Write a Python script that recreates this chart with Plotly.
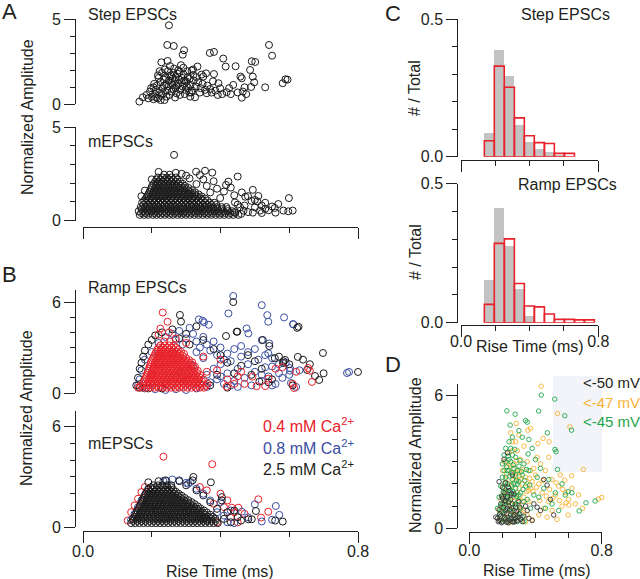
import plotly.graph_objects as go

# ---------------- DATA ----------------
# Panel A, Step EPSCs (rise time ms, normalized amplitude)
step_pts = [
    (0.250, 4.65), (0.245, 3.49), (0.264, 3.43), (0.294, 3.18), (0.290, 2.92), (0.369, 3.02), (0.381, 3.08),
    (0.541, 3.49), (0.550, 2.86), (0.408, 2.69), (0.491, 2.53), (0.501, 2.49), (0.228, 2.47), (0.246, 2.55),
    (0.444, 2.24), (0.415, 2.22), (0.486, 2.02), (0.458, 1.63), (0.462, 1.53), (0.494, 1.63), (0.498, 1.29),
    (0.581, 1.24), (0.589, 1.47), (0.595, 1.45), (0.530, 1.00), (0.489, 1.02), (0.465, 0.75), (0.462, 0.39),
    (0.437, 1.14), (0.418, 0.71), (0.394, 1.24), (0.399, 0.94), (0.381, 1.78), (0.358, 1.82), (0.350, 1.63),
    (0.333, 2.22), (0.316, 1.98), (0.321, 1.73), (0.326, 0.41), (0.309, 0.69), (0.340, 0.69), (0.360, 0.65),
    (0.374, 0.69), (0.164, 0.16), (0.174, 0.41), (0.185, 0.55), (0.195, 0.75),
    (0.200, 0.45), (0.205, 0.30), (0.210, 0.60), (0.212, 0.85), (0.215, 1.10), (0.218, 0.35), (0.220, 1.55),
    (0.222, 0.70), (0.225, 1.30), (0.228, 0.50), (0.230, 1.85), (0.232, 0.95), (0.235, 1.45), (0.237, 0.25),
    (0.240, 1.60), (0.242, 1.15), (0.245, 0.80), (0.247, 1.95), (0.250, 1.40), (0.252, 0.55), (0.255, 1.70),
    (0.257, 1.25), (0.260, 1.50), (0.262, 0.90), (0.265, 2.10), (0.267, 1.35), (0.270, 1.60), (0.272, 0.65),
    (0.275, 1.80), (0.278, 1.20), (0.280, 1.45), (0.283, 0.85), (0.285, 2.30), (0.288, 1.55), (0.290, 1.05),
    (0.293, 1.75), (0.296, 0.60), (0.300, 1.35), (0.303, 1.95), (0.306, 0.95), (0.310, 1.50), (0.313, 1.15),
    (0.318, 0.80), (0.322, 1.40), (0.328, 1.05), (0.335, 1.30), (0.342, 0.95), (0.348, 1.20), (0.355, 0.85),
    (0.362, 1.10), (0.370, 0.90), (0.378, 1.35), (0.385, 0.80), (0.392, 0.55), (0.405, 0.60), (0.425, 0.95),
    (0.430, 0.60), (0.450, 0.70), (0.470, 1.00), (0.475, 0.60),
    (0.190, 0.35), (0.198, 0.95), (0.207, 1.20), (0.213, 0.40), (0.226, 0.25), (0.233, 0.65), (0.238, 2.05),
    (0.243, 0.45), (0.248, 1.05), (0.253, 2.25), (0.258, 0.75), (0.263, 1.85), (0.268, 0.40), (0.273, 1.10),
    (0.277, 2.00), (0.282, 0.55), (0.287, 1.30), (0.292, 2.15), (0.298, 0.85), (0.305, 1.60), (0.312, 0.45),
    (0.320, 2.05), (0.330, 1.60), (0.345, 1.75), (0.205, 1.00), (0.218, 1.70), (0.223, 1.95), (0.236, 1.10),
    (0.251, 1.65), (0.261, 1.15), (0.269, 0.95), (0.281, 1.90), (0.295, 1.40), (0.302, 1.10), (0.315, 0.70),
]

# Panel A, mEPSCs: dense core read row by row (amplitude, rise times) + scattered points
a_mini_rows = [
    (0.30, [0.165, 0.178, 0.190, 0.203, 0.214, 0.226, 0.238, 0.251, 0.262, 0.275, 0.287, 0.299, 0.311, 0.324,
            0.336, 0.348, 0.361, 0.373, 0.386, 0.398, 0.411, 0.424, 0.437, 0.452]),
    (0.40, [0.169, 0.181, 0.193, 0.206, 0.218, 0.230, 0.242, 0.254, 0.266, 0.278, 0.290, 0.302, 0.315, 0.327,
            0.339, 0.352, 0.364, 0.376, 0.389, 0.401, 0.414, 0.428, 0.443]),
    (0.50, [0.162, 0.174, 0.187, 0.199, 0.211, 0.223, 0.236, 0.248, 0.259, 0.272, 0.284, 0.296, 0.309, 0.321,
            0.333, 0.346, 0.358, 0.370, 0.383, 0.395, 0.408, 0.421, 0.434]),
    (0.61, [0.171, 0.183, 0.195, 0.208, 0.220, 0.232, 0.244, 0.257, 0.269, 0.281, 0.293, 0.306, 0.318, 0.330,
            0.342, 0.355, 0.367, 0.380, 0.392, 0.405, 0.420]),
    (0.72, [0.168, 0.181, 0.193, 0.205, 0.217, 0.230, 0.242, 0.254, 0.266, 0.279, 0.291, 0.303, 0.316, 0.328,
            0.340, 0.353, 0.365, 0.378, 0.390, 0.403, 0.417]),
    (0.84, [0.176, 0.188, 0.200, 0.212, 0.224, 0.237, 0.249, 0.261, 0.273, 0.286, 0.298, 0.310, 0.322, 0.335,
            0.347, 0.360, 0.373, 0.388]),
    (0.95, [0.172, 0.184, 0.196, 0.208, 0.220, 0.233, 0.245, 0.257, 0.269, 0.282, 0.294, 0.306, 0.319, 0.331,
            0.343, 0.356, 0.369, 0.382]),
    (1.07, [0.178, 0.190, 0.202, 0.214, 0.226, 0.238, 0.250, 0.262, 0.274, 0.286, 0.298, 0.311, 0.323, 0.336,
            0.349, 0.362]),
    (1.18, [0.183, 0.195, 0.207, 0.219, 0.231, 0.243, 0.256, 0.268, 0.280, 0.292, 0.305, 0.317, 0.329, 0.342, 0.355]),
    (1.29, [0.186, 0.198, 0.210, 0.222, 0.234, 0.246, 0.258, 0.271, 0.283, 0.295, 0.307, 0.319, 0.332, 0.345]),
    (1.40, [0.190, 0.202, 0.214, 0.226, 0.238, 0.250, 0.262, 0.274, 0.287, 0.299, 0.311, 0.324, 0.336]),
    (1.51, [0.193, 0.205, 0.217, 0.229, 0.241, 0.253, 0.265, 0.277, 0.289, 0.301, 0.313, 0.326]),
    (1.62, [0.196, 0.208, 0.220, 0.232, 0.244, 0.256, 0.268, 0.281, 0.293, 0.305, 0.317]),
    (1.74, [0.199, 0.211, 0.223, 0.235, 0.247, 0.259, 0.271, 0.283, 0.295, 0.307]),
    (1.85, [0.201, 0.213, 0.225, 0.237, 0.249, 0.261, 0.273, 0.285, 0.297]),
    (1.96, [0.206, 0.218, 0.230, 0.242, 0.254, 0.266, 0.278, 0.290]),
    (2.08, [0.210, 0.222, 0.234, 0.246, 0.258, 0.270, 0.282]),
    (2.19, [0.214, 0.226, 0.238, 0.250, 0.262, 0.274]),
    (2.30, [0.218, 0.231, 0.244, 0.257, 0.270]),
    (2.45, [0.236, 0.252]),
]
a_mini_pts = [
    (0.265, 3.51), (0.287, 2.50), (0.329, 2.61), (0.355, 2.66), (0.376, 2.56), (0.340, 2.43), (0.450, 2.35),
    (0.423, 2.08), (0.416, 1.90), (0.430, 1.76), (0.494, 1.64), (0.462, 1.50), (0.472, 1.27), (0.510, 1.31),
    (0.507, 1.02), (0.599, 1.20), (0.568, 0.88), (0.558, 0.67), (0.583, 0.53), (0.610, 0.53), (0.597, 0.49),
    (0.530, 0.62), (0.515, 0.53), (0.494, 0.42), (0.467, 0.53), (0.457, 0.71), (0.442, 0.97), (0.399, 1.20),
    (0.460, 0.35), (0.470, 0.80), (0.480, 0.45), (0.490, 1.05), (0.500, 0.70), (0.520, 0.40), (0.530, 0.95),
    (0.540, 0.55), (0.550, 0.75), (0.560, 0.42), (0.480, 1.30), (0.440, 1.35), (0.410, 1.55), (0.390, 1.70),
    (0.370, 1.50), (0.360, 1.85), (0.380, 2.10), (0.350, 2.20), (0.330, 1.95), (0.310, 2.25), (0.300, 2.40),
    (0.270, 2.55), (0.220, 2.60), (0.200, 2.20), (0.180, 1.60), (0.170, 1.30), (0.440, 0.45), (0.450, 0.85),
    (0.500, 1.10), (0.520, 0.80),
]

# Panel B, Ramp EPSCs
ramp_red_rows = [
    (0.35, [0.160, 0.172, 0.184, 0.196, 0.208, 0.220, 0.232, 0.244, 0.256, 0.268, 0.280, 0.292, 0.304, 0.316,
            0.328, 0.340, 0.352]),
    (0.48, [0.166, 0.178, 0.190, 0.202, 0.214, 0.226, 0.238, 0.250, 0.262, 0.274, 0.286, 0.298, 0.310, 0.322,
            0.334, 0.346, 0.358]),
    (0.62, [0.175, 0.187, 0.199, 0.211, 0.223, 0.235, 0.247, 0.259, 0.271, 0.283, 0.295, 0.307, 0.319, 0.331,
            0.343, 0.362]),
    (0.76, [0.178, 0.190, 0.202, 0.214, 0.226, 0.238, 0.250, 0.262, 0.274, 0.286, 0.298, 0.310, 0.322, 0.334, 0.346]),
    (0.90, [0.180, 0.192, 0.204, 0.216, 0.228, 0.240, 0.252, 0.264, 0.276, 0.288, 0.300, 0.312, 0.324, 0.336, 0.350]),
    (1.04, [0.183, 0.195, 0.207, 0.219, 0.231, 0.243, 0.255, 0.267, 0.279, 0.291, 0.303, 0.315, 0.327, 0.339]),
    (1.18, [0.185, 0.197, 0.209, 0.221, 0.233, 0.245, 0.257, 0.269, 0.281, 0.293, 0.305, 0.317, 0.329, 0.341]),
    (1.32, [0.188, 0.200, 0.212, 0.224, 0.236, 0.248, 0.260, 0.272, 0.284, 0.296, 0.308, 0.320, 0.332]),
    (1.46, [0.190, 0.202, 0.214, 0.226, 0.238, 0.250, 0.262, 0.274, 0.286, 0.298, 0.310, 0.322, 0.334]),
    (1.60, [0.192, 0.204, 0.216, 0.228, 0.240, 0.252, 0.264, 0.276, 0.288, 0.300, 0.312, 0.324]),
    (1.74, [0.194, 0.206, 0.218, 0.230, 0.242, 0.254, 0.266, 0.278, 0.290, 0.302, 0.314, 0.326]),
    (1.88, [0.196, 0.208, 0.220, 0.232, 0.244, 0.256, 0.268, 0.280, 0.292, 0.304, 0.316]),
    (2.02, [0.198, 0.210, 0.222, 0.234, 0.246, 0.258, 0.270, 0.282, 0.294, 0.306, 0.318]),
    (2.16, [0.201, 0.213, 0.225, 0.237, 0.249, 0.261, 0.273, 0.285, 0.297, 0.309]),
    (2.30, [0.204, 0.216, 0.228, 0.240, 0.252, 0.264, 0.276, 0.288, 0.300]),
    (2.44, [0.207, 0.219, 0.231, 0.243, 0.255, 0.267, 0.279, 0.291]),
    (2.58, [0.210, 0.222, 0.234, 0.246, 0.258, 0.270, 0.282, 0.294]),
    (2.72, [0.213, 0.225, 0.237, 0.249, 0.261, 0.273, 0.285]),
    (2.86, [0.216, 0.228, 0.240, 0.252, 0.264, 0.276]),
    (3.00, [0.220, 0.232, 0.245, 0.258, 0.270]),
    (3.14, [0.225, 0.238, 0.251, 0.264]),
    (3.40, [0.236, 0.252]),
]
ramp_red_pts = [
    (0.232, 5.31), (0.246, 4.70), (0.225, 4.25), (0.220, 3.85), (0.250, 4.00), (0.270, 3.60), (0.300, 3.30),
    (0.350, 2.40), (0.390, 1.50), (0.420, 0.90), (0.418, 0.42), (0.450, 1.10), (0.470, 0.60), (0.493, 1.08),
    (0.505, 0.45), (0.540, 0.95), (0.560, 1.60), (0.580, 1.70), (0.620, 1.40), (0.655, 1.65), (0.666, 0.73),
    (0.614, 0.33), (0.660, 1.47), (0.530, 0.45), (0.460, 1.40), (0.400, 2.20), (0.360, 1.40), (0.440, 0.60),
    (0.610, 0.60),
]
ramp_blue_pts = [
    (0.437, 6.40), (0.423, 5.25), (0.520, 5.80), (0.536, 5.14), (0.539, 4.70), (0.585, 4.99), (0.612, 4.53),
    (0.337, 4.86), (0.348, 4.77), (0.352, 4.66), (0.366, 4.50), (0.476, 4.26), (0.481, 3.93), (0.520, 3.49),
    (0.542, 3.27), (0.539, 2.62), (0.602, 1.47), (0.611, 4.55), (0.602, 1.65), (0.605, 0.66), (0.768, 1.32),
    (0.774, 1.39), (0.620, 0.40), (0.550, 1.75), (0.570, 1.30),
    (0.260, 3.90), (0.280, 4.10), (0.300, 3.60), (0.310, 4.30), (0.320, 3.90), (0.330, 3.40), (0.340, 3.00),
    (0.350, 3.70), (0.360, 3.20), (0.370, 2.80), (0.380, 3.40), (0.390, 2.50), (0.400, 3.00), (0.410, 2.20),
    (0.290, 3.20), (0.270, 3.50), (0.240, 3.70), (0.220, 3.30), (0.200, 2.70), (0.180, 2.20), (0.170, 1.50),
    (0.165, 0.90), (0.160, 0.50), (0.180, 0.30), (0.210, 0.25), (0.240, 0.20), (0.270, 0.25), (0.300, 0.20),
    (0.330, 0.30), (0.360, 0.40),
    (0.360, 1.20), (0.370, 0.70), (0.380, 1.60), (0.390, 0.90), (0.400, 1.90), (0.410, 0.60), (0.420, 1.30),
    (0.430, 2.10), (0.440, 0.80), (0.450, 1.60), (0.460, 2.40), (0.470, 1.00), (0.480, 1.90), (0.490, 0.50),
    (0.500, 1.40), (0.510, 2.20), (0.520, 0.80), (0.530, 1.70), (0.540, 1.10), (0.550, 2.30), (0.560, 0.60),
    (0.570, 1.90), (0.580, 1.00), (0.590, 2.00), (0.600, 1.20), (0.630, 1.50), (0.450, 0.40), (0.480, 2.70),
    (0.440, 2.90), (0.420, 2.60), (0.500, 2.90), (0.530, 2.50), (0.460, 3.10), (0.400, 1.10), (0.430, 0.50),
    (0.520, 1.20), (0.550, 0.50),
    (0.200, 1.20), (0.220, 1.90), (0.240, 0.60), (0.260, 2.60), (0.280, 1.40), (0.300, 0.80), (0.320, 1.80),
    (0.340, 0.60), (0.350, 2.30), (0.330, 2.70),
]
ramp_black_pts = [
    (0.437, 6.00), (0.282, 5.15), (0.285, 4.71), (0.449, 4.05), (0.416, 3.76), (0.627, 4.37), (0.623, 4.30),
    (0.523, 3.50), (0.542, 3.10), (0.558, 2.30), (0.583, 2.10), (0.625, 2.38), (0.588, 2.18), (0.582, 1.98),
    (0.652, 1.52), (0.675, 1.12), (0.687, 0.86), (0.698, 2.64), (0.800, 1.39), (0.513, 0.75), (0.447, 4.04),
    (0.200, 3.50), (0.190, 3.20), (0.180, 2.80), (0.175, 2.40), (0.170, 2.00), (0.165, 1.60), (0.160, 1.00),
    (0.155, 0.50), (0.165, 0.35), (0.190, 0.30), (0.210, 3.80), (0.230, 4.00), (0.260, 4.20), (0.300, 3.90),
    (0.330, 4.40), (0.350, 3.50), (0.380, 2.90), (0.400, 2.50), (0.420, 2.00), (0.390, 1.20), (0.460, 1.80),
    (0.480, 2.50), (0.500, 2.10), (0.520, 1.60), (0.550, 0.90), (0.570, 2.40), (0.600, 1.90), (0.640, 2.20),
    (0.660, 1.90), (0.700, 1.30), (0.440, 1.30), (0.370, 0.50), (0.420, 0.35), (0.490, 1.20), (0.540, 0.70),
    (0.610, 0.50), (0.230, 0.30), (0.310, 3.20), (0.280, 3.60),
]

# Panel B, mEPSCs
b_mini_black_rows = [
    (0.25, [0.140, 0.152, 0.164, 0.176, 0.188, 0.200, 0.212, 0.224, 0.236, 0.248, 0.260, 0.272, 0.284, 0.296,
            0.308, 0.320, 0.332, 0.344, 0.356, 0.368, 0.380, 0.392]),
    (0.38, [0.146, 0.158, 0.170, 0.182, 0.194, 0.206, 0.218, 0.230, 0.242, 0.254, 0.266, 0.278, 0.290, 0.302,
            0.314, 0.326, 0.338, 0.350, 0.362, 0.374, 0.386]),
    (0.50, [0.145, 0.157, 0.169, 0.181, 0.193, 0.205, 0.217, 0.229, 0.241, 0.253, 0.265, 0.277, 0.289, 0.301,
            0.313, 0.325, 0.337, 0.349, 0.361, 0.373, 0.385]),
    (0.62, [0.150, 0.162, 0.174, 0.186, 0.198, 0.210, 0.222, 0.234, 0.246, 0.258, 0.270, 0.282, 0.294, 0.306,
            0.318, 0.330, 0.342, 0.354, 0.366, 0.378]),
    (0.75, [0.152, 0.164, 0.176, 0.188, 0.200, 0.212, 0.224, 0.236, 0.248, 0.260, 0.272, 0.284, 0.296, 0.308,
            0.320, 0.332, 0.344, 0.356, 0.370]),
    (0.88, [0.156, 0.168, 0.180, 0.192, 0.204, 0.216, 0.228, 0.240, 0.252, 0.264, 0.276, 0.288, 0.300, 0.312,
            0.324, 0.336, 0.348, 0.360]),
    (1.00, [0.158, 0.170, 0.182, 0.194, 0.206, 0.218, 0.230, 0.242, 0.254, 0.266, 0.278, 0.290, 0.302, 0.314,
            0.326, 0.338, 0.352]),
    (1.12, [0.162, 0.174, 0.186, 0.198, 0.210, 0.222, 0.234, 0.246, 0.258, 0.270, 0.282, 0.294, 0.306, 0.318,
            0.330, 0.342]),
    (1.25, [0.165, 0.177, 0.189, 0.201, 0.213, 0.225, 0.237, 0.249, 0.261, 0.273, 0.285, 0.297, 0.309, 0.321, 0.334]),
    (1.38, [0.168, 0.180, 0.192, 0.204, 0.216, 0.228, 0.240, 0.252, 0.264, 0.276, 0.288, 0.300, 0.312, 0.325]),
    (1.50, [0.171, 0.183, 0.195, 0.207, 0.219, 0.231, 0.243, 0.255, 0.267, 0.279, 0.291, 0.303, 0.316]),
    (1.62, [0.174, 0.186, 0.198, 0.210, 0.222, 0.234, 0.246, 0.258, 0.270, 0.282, 0.294, 0.306]),
    (1.75, [0.176, 0.188, 0.200, 0.212, 0.224, 0.236, 0.248, 0.260, 0.272, 0.284, 0.296]),
    (1.88, [0.179, 0.191, 0.203, 0.215, 0.227, 0.239, 0.251, 0.263, 0.275, 0.287]),
    (2.00, [0.182, 0.194, 0.206, 0.218, 0.230, 0.242, 0.254, 0.266, 0.278]),
    (2.12, [0.186, 0.198, 0.210, 0.222, 0.234, 0.246, 0.258, 0.270]),
    (2.25, [0.190, 0.202, 0.214, 0.226, 0.238, 0.250, 0.262]),
    (2.38, [0.197, 0.209, 0.221, 0.233, 0.245, 0.257]),
    (2.50, [0.205, 0.218, 0.231, 0.244, 0.257]),
]
b_mini_black_pts = [
    (0.190, 2.68), (0.372, 2.68), (0.321, 3.00), (0.319, 2.80), (0.404, 1.80), (0.404, 1.60), (0.503, 0.97),
    (0.481, 0.48), (0.491, 0.48), (0.559, 0.40), (0.581, 0.34), (0.420, 0.90), (0.410, 0.50), (0.430, 0.30),
    (0.450, 0.60), (0.390, 1.10), (0.370, 1.50), (0.350, 1.90), (0.330, 2.20), (0.300, 2.50), (0.280, 2.75),
    (0.240, 2.80), (0.220, 2.75), (0.460, 0.40), (0.440, 1.00),
]
b_mini_red_pts = [
    (0.234, 4.21), (0.376, 3.76), (0.433, 1.17), (0.452, 1.17), (0.510, 1.67), (0.518, 0.58), (0.539, 0.93),
    (0.400, 2.00), (0.380, 1.40), (0.410, 1.20), (0.430, 0.60), (0.140, 0.90), (0.150, 1.30), (0.160, 1.70),
    (0.170, 2.10), (0.180, 2.40), (0.450, 0.30), (0.470, 0.80), (0.360, 2.20), (0.340, 2.40), (0.390, 0.30),
    (0.130, 0.40), (0.440, 0.90), (0.350, 0.50), (0.420, 1.60),
]
b_mini_blue_pts = [
    (0.234, 2.76), (0.243, 2.76), (0.306, 2.60), (0.313, 2.70), (0.300, 2.65), (0.462, 0.93), (0.500, 1.37),
    (0.561, 1.27), (0.571, 0.74), (0.420, 0.30), (0.440, 0.25), (0.140, 0.45), (0.150, 0.80), (0.160, 1.20),
    (0.170, 1.60), (0.190, 2.30), (0.330, 2.30), (0.350, 2.00), (0.370, 1.60), (0.390, 0.90), (0.410, 0.70),
    (0.430, 1.00), (0.480, 0.60), (0.520, 0.35), (0.550, 0.45), (0.260, 2.85), (0.280, 2.80), (0.360, 0.40),
    (0.400, 1.50),
]

# Panel C histograms (# / Total per rise-time bin)
bin_centers = [0.165, 0.223, 0.282, 0.340, 0.398, 0.457, 0.515, 0.573, 0.632, 0.690, 0.748]
step_gray = [0.085, 0.387, 0.293, 0.115, 0.052, 0.028, 0.018, 0.006, 0.0, 0.0, 0.0]
step_red = [0.058, 0.329, 0.252, 0.141, 0.076, 0.051, 0.048, 0.012, 0.012, 0.0, 0.0]
ramp_gray = [0.153, 0.411, 0.275, 0.121, 0.025, 0.0, 0.0, 0.0, 0.0, 0.0, 0.0]
ramp_red = [0.066, 0.285, 0.301, 0.141, 0.060, 0.057, 0.031, 0.012, 0.012, 0.010, 0.010]

# Panel D, Ramp EPSCs by holding potential
d_orange_pts = [
    (0.435, 6.40), (0.533, 5.17), (0.608, 4.57), (0.415, 3.82), (0.284, 4.72), (0.354, 4.42), (0.446, 4.05),
    (0.482, 3.90), (0.689, 2.65), (0.800, 1.39), (0.780, 1.32), (0.597, 0.60), (0.685, 0.90), (0.601, 1.05),
    (0.618, 2.37), (0.577, 2.17), (0.370, 4.50), (0.300, 4.20), (0.260, 3.90), (0.480, 3.20),
    (0.400, 2.40), (0.420, 2.00), (0.440, 1.60), (0.460, 2.60), (0.480, 1.20), (0.500, 2.20), (0.520, 1.50),
    (0.540, 1.90), (0.560, 1.00), (0.580, 1.60), (0.600, 1.30), (0.620, 1.80), (0.640, 1.10), (0.660, 1.50),
    (0.450, 0.90), (0.470, 0.50), (0.500, 0.80), (0.530, 0.40), (0.550, 2.40), (0.430, 2.90), (0.410, 3.20),
    (0.390, 2.70), (0.370, 1.80), (0.360, 1.20), (0.350, 0.60), (0.380, 0.40), (0.420, 0.60),
    (0.190, 0.40), (0.200, 0.90), (0.210, 1.50), (0.220, 2.20), (0.230, 2.80), (0.240, 3.40), (0.250, 2.50),
    (0.260, 1.90), (0.270, 2.90), (0.280, 2.30), (0.290, 1.60), (0.300, 2.60), (0.310, 3.10), (0.320, 2.00),
    (0.330, 1.40), (0.340, 2.30), (0.350, 3.00), (0.360, 1.70), (0.370, 2.60), (0.380, 2.10), (0.200, 2.60),
    (0.210, 3.00), (0.220, 1.10), (0.230, 0.50), (0.240, 1.60), (0.250, 0.80), (0.260, 3.50), (0.270, 1.20),
    (0.280, 0.60), (0.290, 2.50), (0.300, 1.00), (0.310, 0.40), (0.320, 1.20), (0.330, 0.80), (0.340, 0.30),
    (0.280, 3.90), (0.250, 4.30), (0.290, 3.50), (0.330, 3.70), (0.310, 2.20), (0.270, 2.20), (0.240, 2.00),
    (0.220, 1.70), (0.260, 1.40), (0.300, 1.80), (0.190, 1.30), (0.180, 0.80), (0.350, 2.00), (0.270, 0.30),
    (0.240, 0.25),
    (0.205, 1.85), (0.225, 2.45), (0.245, 2.85), (0.265, 2.65), (0.285, 3.05), (0.305, 2.35), (0.325, 2.65),
    (0.345, 1.65), (0.365, 2.25), (0.385, 1.65), (0.405, 1.85), (0.425, 1.25), (0.445, 2.15), (0.465, 1.45),
    (0.485, 1.75), (0.505, 1.35), (0.525, 2.05), (0.545, 1.25), (0.565, 1.75), (0.585, 1.15), (0.215, 0.65),
    (0.235, 1.25), (0.255, 1.05), (0.275, 0.75), (0.295, 1.35), (0.315, 0.85),
]
d_green_pts = [
    (0.435, 6.00), (0.516, 5.82), (0.227, 5.29), (0.277, 5.14), (0.419, 5.28), (0.577, 5.07), (0.618, 4.42),
    (0.340, 4.85), (0.350, 4.78), (0.247, 4.65), (0.472, 4.30), (0.518, 3.55), (0.524, 3.45), (0.533, 2.65),
    (0.760, 1.23), (0.664, 0.78), (0.705, 1.15), (0.597, 1.65), (0.580, 1.50), (0.620, 1.60), (0.560, 2.00),
    (0.480, 2.20), (0.450, 1.80), (0.430, 2.70), (0.400, 3.10), (0.420, 1.40), (0.460, 0.90), (0.500, 1.10),
    (0.540, 0.80), (0.520, 1.60), (0.380, 3.60), (0.360, 4.00), (0.320, 4.10), (0.300, 4.40), (0.260, 4.10),
    (0.240, 3.90), (0.220, 3.60), (0.210, 3.30), (0.200, 2.90),
    (0.180, 0.60), (0.190, 1.00), (0.200, 1.40), (0.210, 1.80), (0.220, 2.30), (0.230, 2.00), (0.240, 2.60),
    (0.250, 3.00), (0.260, 2.20), (0.270, 2.70), (0.280, 3.20), (0.290, 2.00), (0.300, 2.80), (0.310, 1.60),
    (0.320, 2.40), (0.330, 2.90), (0.340, 1.90), (0.350, 1.30), (0.360, 2.60), (0.190, 1.90), (0.200, 2.30),
    (0.210, 1.10), (0.220, 0.80), (0.230, 1.40), (0.240, 1.20), (0.250, 1.70), (0.260, 0.90), (0.270, 1.50),
    (0.280, 1.10), (0.290, 0.60), (0.300, 1.50), (0.310, 0.90), (0.320, 0.50), (0.330, 1.20), (0.230, 2.60),
    (0.240, 3.10), (0.250, 3.60), (0.220, 3.00), (0.260, 3.30), (0.270, 2.00), (0.280, 1.80), (0.290, 2.60),
    (0.210, 2.60), (0.200, 1.10), (0.220, 1.60), (0.240, 1.80), (0.260, 2.50), (0.280, 2.40), (0.300, 2.10),
    (0.180, 1.40), (0.170, 0.90), (0.190, 0.35), (0.210, 0.45), (0.230, 0.30), (0.250, 0.50), (0.270, 0.40),
    (0.290, 0.30), (0.330, 0.30), (0.370, 0.90), (0.390, 1.50), (0.410, 2.30),
    (0.195, 0.75), (0.205, 1.65), (0.215, 2.05), (0.225, 2.75), (0.235, 3.25), (0.245, 2.35), (0.255, 1.95),
    (0.265, 2.85), (0.275, 3.55), (0.285, 2.15), (0.295, 1.25), (0.305, 3.05), (0.315, 2.55), (0.325, 1.75),
    (0.335, 2.15), (0.345, 2.65), (0.355, 3.35), (0.365, 1.95), (0.215, 0.85), (0.235, 1.15), (0.255, 0.75),
    (0.275, 1.05), (0.305, 0.65), (0.225, 1.35), (0.245, 1.45), (0.265, 1.65), (0.285, 1.45),
]
d_black_pts = [
    (0.170, 0.45), (0.180, 0.35), (0.190, 0.55), (0.200, 0.30), (0.210, 0.70), (0.220, 0.40), (0.230, 0.90),
    (0.240, 0.35), (0.250, 0.60), (0.260, 0.30), (0.270, 0.80), (0.280, 0.45), (0.290, 0.35), (0.300, 0.65),
    (0.310, 0.40), (0.320, 0.30), (0.180, 0.85), (0.190, 1.10), (0.200, 1.35), (0.210, 1.60), (0.220, 1.20),
    (0.230, 1.45), (0.240, 1.00), (0.250, 1.30), (0.260, 1.10), (0.270, 1.55), (0.280, 0.95), (0.200, 1.85),
    (0.220, 2.05), (0.240, 1.70), (0.260, 2.40), (0.230, 3.40), (0.210, 3.10), (0.180, 2.10), (0.195, 0.25),
    (0.215, 0.50), (0.235, 0.25), (0.255, 0.45), (0.275, 0.30), (0.295, 0.50), (0.330, 0.55), (0.350, 0.80),
    (0.360, 0.45), (0.380, 0.35), (0.410, 0.95), (0.450, 2.20), (0.470, 1.95), (0.490, 1.30), (0.510, 0.60),
    (0.430, 0.80), (0.390, 1.10), (0.160, 0.50), (0.300, 1.20), (0.340, 1.00),
    (0.185, 0.65), (0.205, 0.95), (0.225, 0.65), (0.245, 0.85), (0.265, 0.55), (0.285, 0.75), (0.305, 0.95),
    (0.195, 1.45), (0.215, 1.25), (0.235, 1.85), (0.255, 1.55), (0.175, 0.30), (0.225, 0.28), (0.265, 0.28),
]

legend_B = ["0.4 mM Ca<sup>2+</sup>", "0.8 mM Ca<sup>2+</sup>", "2.5 mM Ca<sup>2+</sup>"]
legend_D = ["&lt;-50 mV", "&lt;-47 mV", "&lt;-45 mV"]

# ---------------- STYLE / GEOMETRY ----------------
W, H = 640, 579
INK = "#231f20"
RED = "#e8212a"
BLUE = "#3b4ea2"
BLK = "#1a1a1a"
ORANGE = "#f7b234"
GREEN = "#1fa64a"
GRAY = "#c3c3c3"
FONT = "Liberation Sans, Arial, sans-serif"


def X(px):
    return px / W


def Y(py):
    return 1 - py / H


def rows_to_pts(rows):
    return [(x, amp) for amp, xs in rows for x in xs]


def scatter(pts, color, xa, ya, size=7, lw=1.0):
    return go.Scatter(
        x=[p[0] for p in pts], y=[p[1] for p in pts], mode="markers", xaxis=xa, yaxis=ya,
        cliponaxis=False, showlegend=False, hoverinfo="skip",
        marker=dict(symbol="circle-open", size=size, color=color, line=dict(width=lw, color=color)),
    )


def yax(top, bot, rng, pos, majors, labels, minors):
    return dict(
        domain=[Y(bot), Y(top)], range=rng, anchor="free", position=X(pos), automargin=False,
        showline=True, linecolor=INK, linewidth=1, showgrid=False, zeroline=False, fixedrange=True,
        ticks="outside", ticklen=11, tickwidth=1, tickcolor=INK,
        tickmode="array", tickvals=majors, ticktext=labels,
        tickfont=dict(size=16, color=INK, family=FONT),
        minor=dict(tickmode="array", tickvals=minors, ticks="outside", ticklen=5, tickwidth=1, tickcolor=INK),
    )


def xax(left, right, ypos, show_labels, standoff=0):
    return dict(
        domain=[X(left), X(right)], range=[0, 0.8], anchor="free", position=Y(ypos), automargin=False,
        showline=True, linecolor=INK, linewidth=1, showgrid=False, zeroline=False, fixedrange=True,
        ticks="outside", ticklen=11, tickwidth=1, tickcolor=INK,
        tickmode="array", tickvals=[0, 0.8], ticktext=["0.0", "0.8"], showticklabels=show_labels,
        ticklabelstandoff=standoff,
        tickfont=dict(size=16, color=INK, family=FONT),
        minor=dict(tickmode="array", tickvals=[0.2, 0.4, 0.6], ticks="outside", ticklen=5, tickwidth=1,
                   tickcolor=INK),
    )


fig = go.Figure()

# Panel A
fig.add_trace(scatter(step_pts, BLK, "x", "y"))
fig.add_trace(scatter(rows_to_pts(a_mini_rows) + a_mini_pts, BLK, "x", "y2"))
# Panel B top (ramp)
fig.add_trace(scatter(ramp_blue_pts, BLUE, "x2", "y3"))
fig.add_trace(scatter(ramp_black_pts, BLK, "x2", "y3"))
fig.add_trace(scatter(rows_to_pts(ramp_red_rows) + ramp_red_pts, RED, "x2", "y3"))
# Panel B bottom (minis)
fig.add_trace(scatter(b_mini_red_pts, RED, "x2", "y4"))
fig.add_trace(scatter(b_mini_blue_pts, BLUE, "x2", "y4"))
fig.add_trace(scatter(rows_to_pts(b_mini_black_rows) + b_mini_black_pts, BLK, "x2", "y4"))

# Panel C histograms
bw = bin_centers[1] - bin_centers[0]
for xa, ya, gray, red in (("x3", "y5", step_gray, step_red), ("x4", "y6", ramp_gray, ramp_red)):
    gx = [c for c, v in zip(bin_centers, gray) if v > 0]
    gy = [v for v in gray if v > 0]
    rx = [c for c, v in zip(bin_centers, red) if v > 0]
    ry = [v for v in red if v > 0]
    fig.add_trace(go.Bar(x=gx, y=gy, width=bw, xaxis=xa, yaxis=ya, marker=dict(color=GRAY, line=dict(width=0)),
                         showlegend=False, hoverinfo="skip"))
    fig.add_trace(go.Bar(x=rx, y=ry, width=bw, xaxis=xa, yaxis=ya,
                         marker=dict(color="rgba(0,0,0,0)", line=dict(width=1.6, color=RED)),
                         showlegend=False, hoverinfo="skip"))

# Panel D
fig.add_trace(scatter(d_orange_pts, ORANGE, "x5", "y7", size=4.5, lw=0.9))
fig.add_trace(scatter(d_green_pts, GREEN, "x5", "y7", size=4.5, lw=0.9))
fig.add_trace(scatter(d_black_pts, "#333333", "x5", "y7", size=4.5, lw=0.9))

fig.update_layout(
    width=W, height=H, margin=dict(l=0, r=0, t=0, b=0, autoexpand=False), autosize=False,
    paper_bgcolor="white", plot_bgcolor="rgba(0,0,0,0)", barmode="overlay", bargap=0,
    font=dict(family=FONT, color=INK, size=16), hovermode=False,
    xaxis=xax(83, 358, 227, False),
    yaxis=yax(19.3, 104.3, [0, 5], 75, [0, 5], ["0", "5"], [1, 2, 3, 4]),
    yaxis2=yax(127, 220.5, [0, 5], 75, [0, 5], ["0", "5"], [1, 2, 3, 4]),
    xaxis2=xax(83, 358, 531, True, -5),
    yaxis3=yax(289.5, 393, [0, 6.83], 75, [0, 6], ["0", "6"], [1, 2, 3, 4, 5]),
    yaxis4=yax(411, 527.3, [0, 6.93], 75, [0, 6], ["0", "6"], [1, 2, 3, 4, 5]),
    xaxis3=xax(461, 598.3, 160, False),
    yaxis5=yax(19, 156.7, [0, 0.5], 457.3, [0, 0.5], ["0.0", "0.5"], [0.1, 0.2, 0.3, 0.4]),
    xaxis4=xax(461, 598.3, 325, True, -9),
    yaxis6=yax(183.5, 322.7, [0, 0.5], 457.3, [0, 0.5], ["0.0", "0.5"], [0.1, 0.2, 0.3, 0.4]),
    xaxis5=xax(469.3, 601.7, 531.7, True, -7),
    yaxis7=yax(384, 528.3, [0, 6.5], 457.3, [0, 6], ["0", "6"], [1, 2, 3, 4, 5]),
)

fig.add_shape(type="rect", xref="paper", yref="paper", x0=X(553), x1=X(602), y0=Y(472), y1=Y(376),
              fillcolor="#f3f4f9", line=dict(width=0), layer="below")


def note(text, px, py, size=16, color=INK, xanchor="left", angle=0):
    fig.add_annotation(text=text, x=X(px), y=Y(py), xref="paper", yref="paper", showarrow=False,
                       xanchor=xanchor, yanchor="middle", textangle=angle,
                       font=dict(size=size, color=color, family=FONT))


# panel letters
note("A", 0, 12, size=22)
note("B", 0, 274, size=22)
note("C", 383, 13, size=22)
note("D", 383, 365, size=22)
# subtitles
note("Step EPSCs", 86, 15)
note("mEPSCs", 86, 141)
note("Ramp EPSCs", 86, 287)
note("mEPSCs", 86, 444)
note("Step EPSCs", 519, 14)
note("Ramp EPSCs", 516, 184)
# axis titles
note("Normalized Amplitude", 27, 117, xanchor="center", angle=-90)
note("Normalized Amplitude", 27, 408, xanchor="center", angle=-90)
note("# / Total", 415, 88, xanchor="center", angle=-90)
note("# / Total", 415, 252, xanchor="center", angle=-90)
note("Normalized Amplitude", 415, 455, xanchor="center", angle=-90)
note("Rise Time (ms)", 220, 571, xanchor="center")
note("Rise Time (ms)", 530, 346, xanchor="center")
note("Rise Time (ms)", 537, 570, xanchor="center")
# legends
for txt, col, py in zip(legend_B, [RED, BLUE, INK], [425, 447, 468]):
    note(txt, 261, py, color=col)
for txt, col, py in zip(legend_D, [INK, ORANGE, GREEN], [383, 402, 421]):
    note(txt, 581, py, size=15, color=col)

fig.write_html(
    "out.html",
    config={"displayModeBar": False, "staticPlot": True},
    post_script="document.body.style.margin='0';document.body.style.padding='0';"
                "document.body.style.overflow='hidden';",
)
